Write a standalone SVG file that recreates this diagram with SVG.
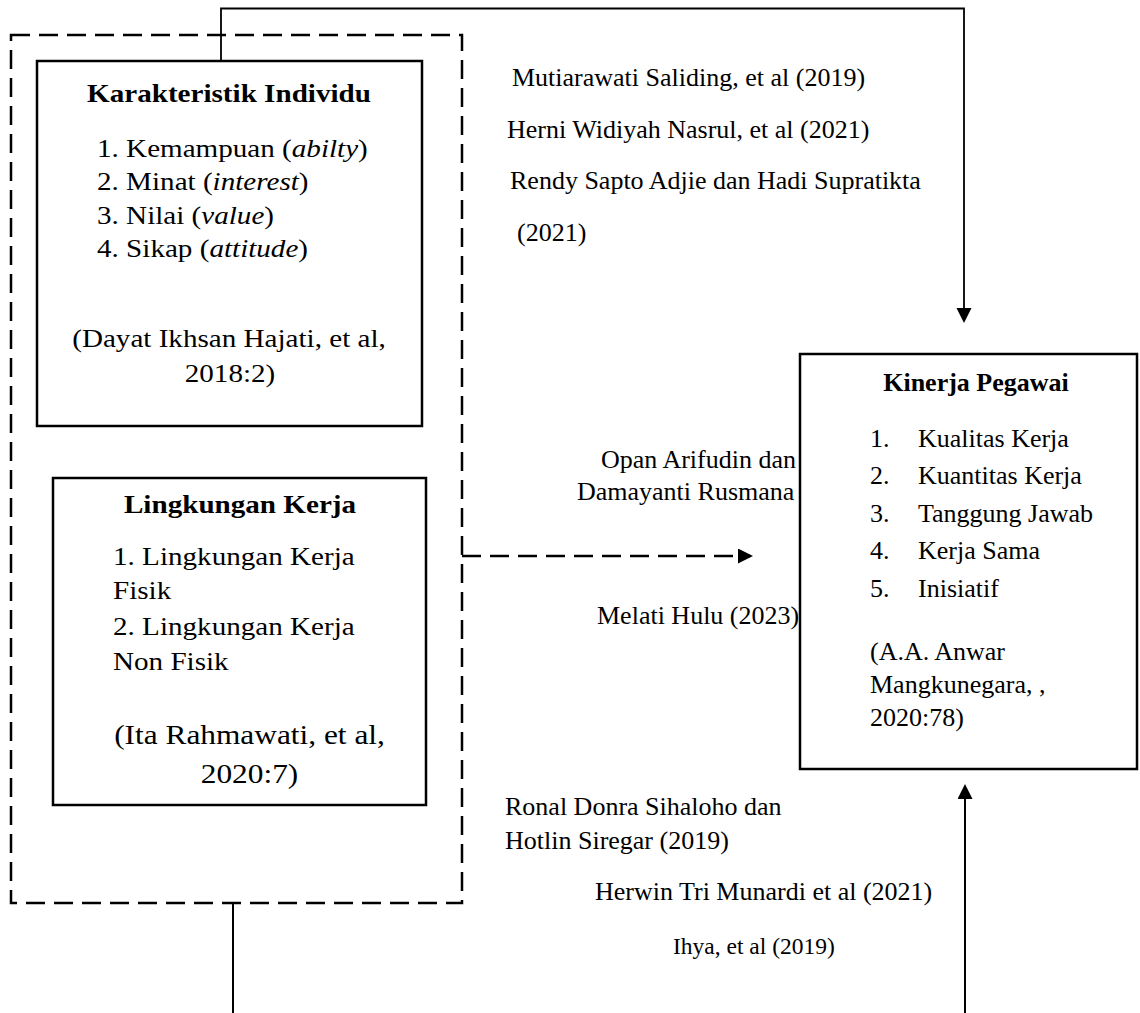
<svg xmlns="http://www.w3.org/2000/svg" width="1140" height="1013" viewBox="0 0 1140 1013">
<defs>
<marker id="ah" markerUnits="userSpaceOnUse" markerWidth="16" markerHeight="16" refX="12" refY="7.5" orient="auto"><path d="M0,0 L15,7.5 L0,15 Z" fill="#000"/></marker>
<style>
text{font-family:"Liberation Serif","Times New Roman",serif;fill:#000}
.f26{font-size:26px}
.f28{font-size:28px}
.f23{font-size:23.5px}
.b{font-weight:bold}
.m{text-anchor:middle}
.box{fill:#fff;stroke:#000;stroke-width:2.5}
.dash{fill:none;stroke:#000;stroke-width:2.5;stroke-dasharray:19 9}
.ln{fill:none;stroke:#000;stroke-width:2}
</style>
</defs>
<rect width="1140" height="1013" fill="#fff"/>

<g id="group-variabel-x">
<rect class="dash" x="11" y="35" width="451" height="868"/>
</g>

<g id="labels">
<text class="f26" x="512" y="86">Mutiarawati Saliding, et al (2019)</text>
<text class="f26" x="507" y="138">Herni Widiyah Nasrul, et al (2021)</text>
<text class="f26" x="510" y="189">Rendy Sapto Adjie dan Hadi Supratikta</text>
<text class="f26" x="517" y="241">(2021)</text>
<text class="f26" x="601" y="468">Opan Arifudin dan</text>
<text class="f26" x="577" y="500">Damayanti Rusmana</text>
<text class="f26" x="597" y="624">Melati Hulu (2023)</text>
<text class="f26" x="505" y="815">Ronal Donra Sihaloho dan</text>
<text class="f26" x="505" y="849">Hotlin Siregar (2019)</text>
<text class="f26" x="595" y="900">Herwin Tri Munardi et al (2021)</text>
<text class="f23" x="673" y="954">Ihya, et al (2019)</text>
</g>

<g id="connectors">
<path d="M221,61 V8.5 H964 V320" fill="none" stroke="#000" stroke-width="1.8" marker-end="url(#ah)"/>
<path class="dash" d="M462,556 H750" marker-end="url(#ah)"/>
<path class="ln" d="M233,903 V1013"/>
<path class="ln" d="M965,1013 V787" marker-end="url(#ah)"/>
</g>

<g id="node-karakteristik-individu">
<rect class="box" x="37" y="61" width="385" height="365"/>
<text class="f26 b m" transform="translate(229,102) scale(1.12,1)">Karakteristik Individu</text>
<text class="f26" transform="translate(97,157) scale(1.12,1)">1. Kemampuan (<tspan font-style="italic">abilty</tspan>)</text>
<text class="f26" transform="translate(97,190) scale(1.12,1)">2. Minat (<tspan font-style="italic">interest</tspan>)</text>
<text class="f26" transform="translate(97,224) scale(1.12,1)">3. Nilai (<tspan font-style="italic">value</tspan>)</text>
<text class="f26" transform="translate(97,257) scale(1.12,1)">4. Sikap (<tspan font-style="italic">attitude</tspan>)</text>
<text class="f26 m" transform="translate(229,347) scale(1.12,1)">(Dayat Ikhsan Hajati, et al,</text>
<text class="f26 m" transform="translate(230,382) scale(1.12,1)">2018:2)</text>
</g>

<g id="node-lingkungan-kerja">
<rect class="box" x="53" y="478" width="373" height="327"/>
<text class="f26 b m" transform="translate(240,513) scale(1.12,1)">Lingkungan Kerja</text>
<text class="f26" transform="translate(113,565) scale(1.12,1)">1. Lingkungan Kerja</text>
<text class="f26" transform="translate(113,599) scale(1.12,1)">Fisik</text>
<text class="f26" transform="translate(113,635) scale(1.12,1)">2. Lingkungan Kerja</text>
<text class="f26" transform="translate(113,670) scale(1.12,1)">Non Fisik</text>
<text class="f28 m" transform="translate(249.5,744) scale(1.12,1)">(Ita Rahmawati, et al,</text>
<text class="f28 m" transform="translate(249.5,783) scale(1.12,1)">2020:7)</text>
</g>

<g id="node-kinerja-pegawai">
<rect class="box" x="800" y="354" width="337" height="415"/>
<text class="f26 b m" x="976" y="391">Kinerja Pegawai</text>
<text class="f26" x="870" y="447">1.</text><text class="f26" x="918" y="447">Kualitas Kerja</text>
<text class="f26" x="870" y="484">2.</text><text class="f26" x="918" y="484">Kuantitas Kerja</text>
<text class="f26" x="870" y="522">3.</text><text class="f26" x="918" y="522">Tanggung Jawab</text>
<text class="f26" x="870" y="559">4.</text><text class="f26" x="918" y="559">Kerja Sama</text>
<text class="f26" x="870" y="597">5.</text><text class="f26" x="918" y="597">Inisiatif</text>
<text class="f26" x="870" y="660">(A.A. Anwar</text>
<text class="f26" x="870" y="693">Mangkunegara, ,</text>
<text class="f26" x="870" y="726">2020:78)</text>
</g>
</svg>
